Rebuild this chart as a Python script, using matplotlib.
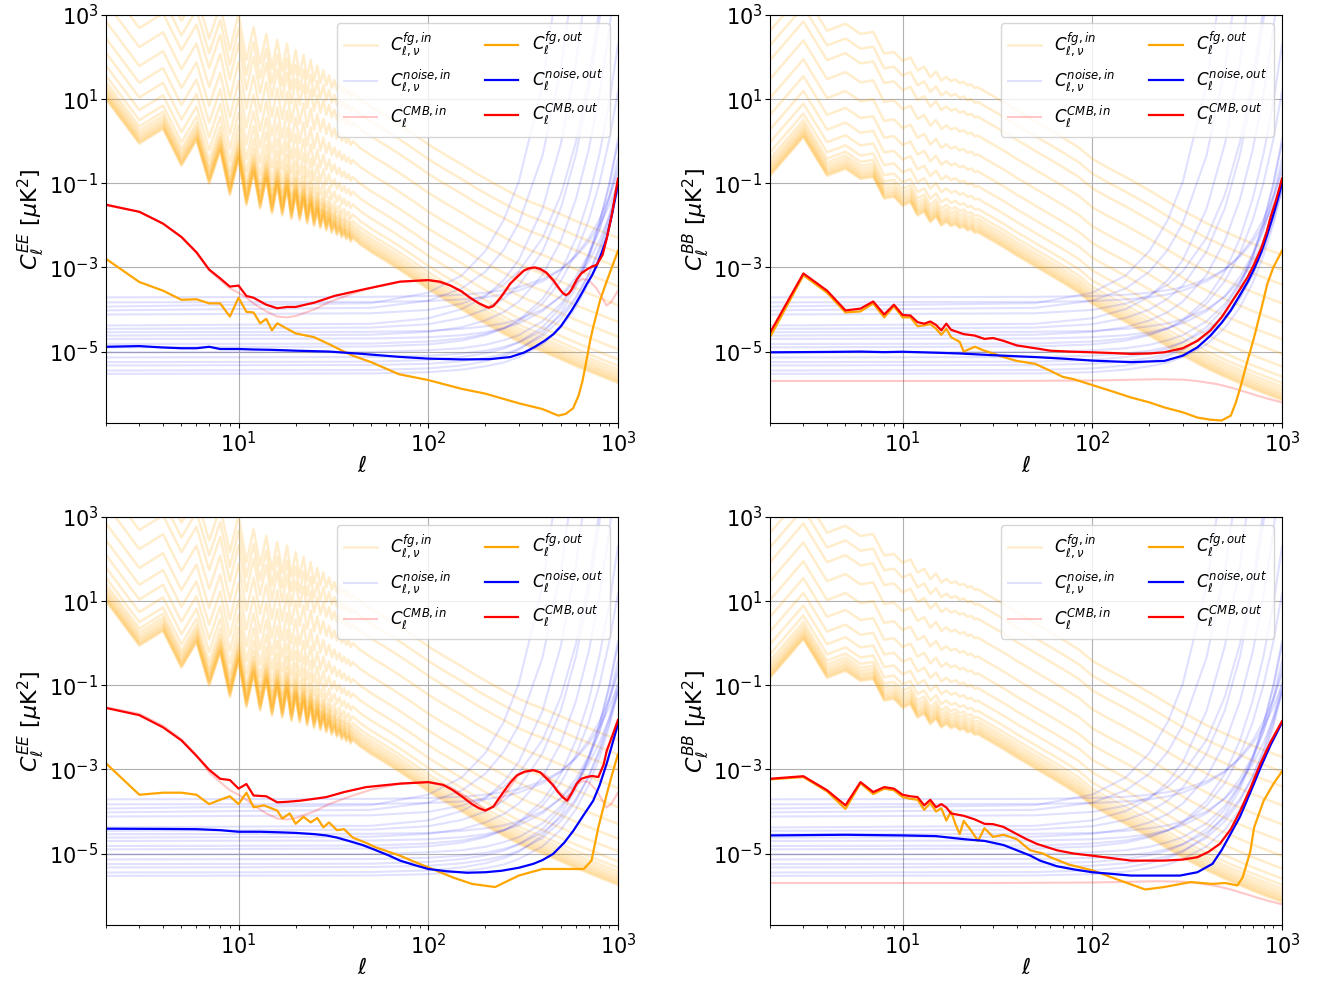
import numpy as np
import matplotlib
matplotlib.use("Agg")
import matplotlib.pyplot as plt
from matplotlib.ticker import NullLocator

# ---------------------------------------------------------------
# input spectra (shared by both rows)
# ---------------------------------------------------------------
# CMB input, EE
ell_cmb_ee = [2, 3, 4, 5, 6, 7, 8, 9, 10, 11, 12, 14, 16, 18, 20, 25, 30, 40, 50, 70, 100,
              130, 165, 200, 230, 260, 300, 360, 420, 480, 530, 570, 610, 650, 700, 770,
              830, 870, 920, 1000]
cmb_in_ee = [3.0e-2, 2.1e-2, 1.1e-2, 5.2e-3, 2.2e-3, 8.5e-4, 5.0e-4, 3.2e-4, 2.5e-4, 1.9e-4,
             1.4e-4, 9.0e-5, 6.8e-5, 6.5e-5, 7.0e-5, 1.0e-4, 1.5e-4, 2.4e-4, 3.3e-4, 4.5e-4,
             5.0e-4, 3.8e-4, 2.0e-4, 1.1e-4, 1.4e-4, 3.0e-4, 7.5e-4, 9.8e-4, 7.2e-4, 3.3e-4,
             2.1e-4, 2.8e-4, 4.5e-4, 5.3e-4, 5.0e-4, 3.2e-4, 1.8e-4, 1.25e-4, 1.5e-4, 2.8e-4]

# CMB input, BB
ell_cmb_bb = [2, 30, 100, 220, 300, 355, 450, 537, 640, 738, 850, 1000]
cmb_in_bb = [2.0e-6, 2.0e-6, 2.05e-6, 2.2e-6, 2.15e-6, 2.0e-6, 1.7e-6, 1.4e-6, 1.1e-6,
             9.0e-7, 7.5e-7, 6.2e-7]

# foreground input: lowest channel, plus channel offsets (log10)
ell_fg_ee = [2, 3, 4, 5, 6, 7, 8, 9, 10, 11, 12, 13, 14, 15, 16, 17, 18, 19, 20, 21, 22,
             23, 24, 25, 26, 27, 28, 29, 30, 31, 32, 33, 34, 35, 36, 37, 38, 39, 40, 42,
             44, 47, 50, 60, 70, 85, 100, 120, 150, 180, 220, 260, 300, 350, 400, 500,
             600, 700, 850, 1000]
fg_base_ee = [10, 0.87, 1.95, 0.26, 1.05, 0.098, 0.6, 0.052, 0.38, 0.030, 0.18, 0.025,
              0.126, 0.019, 0.09, 0.017, 0.074, 0.014, 0.052, 0.013, 0.040, 0.011, 0.030,
              0.0095, 0.022, 0.0085, 0.017, 0.0075, 0.013, 0.0066, 0.010, 0.0058, 0.0082,
              0.0051, 0.0068, 0.0046, 0.0058, 0.0041, 0.0050, 0.0041, 0.0034, 0.0028,
              0.0023, 0.0014, 9e-4, 5e-4, 3e-4, 1.8e-4, 1.0e-4, 6e-5, 3.6e-5, 2.4e-5,
              1.7e-5, 1.25e-5, 1.0e-5, 6.5e-6, 4.5e-6, 3.4e-6, 2.4e-6, 1.8e-6]

ell_fg_bb = [2, 3, 4, 5, 6, 7, 8, 9, 10, 11, 12, 13, 14, 15, 16, 17, 18, 19, 20, 21, 22,
             23, 24, 25, 27, 30, 35, 40, 45, 50, 60, 70, 85, 100, 120, 150, 200, 250, 300,
             400, 500, 700, 1000]
fg_base_bb = [0.15, 1.25, 0.15, 0.22, 0.126, 0.14, 0.043, 0.047, 0.029, 0.035, 0.017, 0.021,
              0.0118, 0.016, 0.0098, 0.012, 0.0095, 0.0105, 0.0085, 0.0092, 0.0075, 0.008,
              0.0066, 0.0068, 0.0055, 0.0042, 0.0028, 0.0019, 0.0014, 0.00105, 6.5e-4,
              4.3e-4, 2.5e-4, 1.35e-4, 8.5e-5, 5e-5, 2.4e-5, 1.3e-5, 8e-6, 4e-6, 2.5e-6,
              1.3e-6, 7e-7]

fg_chan_log = [0, 0.03, 0.06, 0.1, 0.14, 0.19, 0.25, 0.32, 0.41, 0.56, 0.8, 1.1, 1.45,
               1.85, 2.3, 2.75, 3.1, 3.45]

# noise input per channel (log10 values)
ell_noise = [2, 50, 100, 150, 200, 250, 300, 400, 500, 600, 700, 800, 900, 1000]
noise_in_log = [
    [-3.71, -3.70, -3.68, -3.65, -3.60, -3.54, -3.47, -3.28, -3.04, -2.74, -2.39, -1.98, -1.52, -1.01],
    [-3.83, -3.82, -3.80, -3.76, -3.71, -3.64, -3.55, -3.33, -3.06, -2.71, -2.31, -1.85, -1.32, -0.73],
    [-3.93, -3.85, -3.60, -3.19, -2.61, -1.87, -0.96, 1.35, 4.32, 7.95, 12.24, 17.19, 22.8, 29.07],
    [-4.02, -3.96, -3.79, -3.50, -3.10, -2.58, -1.95, -0.34, 1.73, 4.26, 7.25, 10.7, 14.61, 18.98],
    [-4.12, -4.09, -4.01, -3.86, -3.66, -3.41, -3.09, -2.30, -1.27, -0.02, 1.47, 3.18, 5.11, 7.28],
    [-4.38, -4.34, -4.21, -3.99, -3.69, -3.30, -2.82, -1.61, -0.06, 1.85, 4.10, 6.69, 9.63, 12.92],
    [-4.46, -4.43, -4.35, -4.20, -4.00, -3.74, -3.43, -2.62, -1.59, -0.32, 1.18, 2.90, 4.86, 7.04],
    [-4.54, -4.53, -4.51, -4.46, -4.40, -4.33, -4.23, -4.00, -3.69, -3.32, -2.87, -2.36, -1.79, -1.14],
    [-4.62, -4.60, -4.53, -4.42, -4.26, -4.06, -3.81, -3.18, -2.37, -1.38, -0.21, 1.14, 2.67, 4.38],
    [-4.70, -4.69, -4.66, -4.61, -4.54, -4.44, -4.33, -4.04, -3.68, -3.22, -2.69, -2.08, -1.38, -0.60],
    [-4.82, -4.81, -4.76, -4.69, -4.58, -4.45, -4.28, -3.86, -3.32, -2.66, -1.88, -0.98, 0.04, 1.18],
    [-4.90, -4.88, -4.83, -4.74, -4.61, -4.45, -4.25, -3.75, -3.10, -2.31, -1.37, -0.29, 0.93, 2.30],
    [-5.02, -5.01, -4.97, -4.92, -4.84, -4.73, -4.61, -4.28, -3.87, -3.36, -2.77, -2.08, -1.29, -0.42],
    [-5.14, -5.13, -5.10, -5.05, -4.98, -4.89, -4.78, -4.50, -4.14, -3.70, -3.18, -2.58, -1.90, -1.14],
    [-5.25, -5.24, -5.20, -5.13, -5.04, -4.93, -4.78, -4.42, -3.95, -3.38, -2.70, -1.92, -1.04, -0.05],
    [-5.33, -5.32, -5.29, -5.23, -5.15, -5.06, -4.93, -4.63, -4.23, -3.75, -3.17, -2.51, -1.77, -0.93],
    [-5.45, -5.44, -5.40, -5.33, -5.23, -5.11, -4.96, -4.57, -4.08, -3.47, -2.76, -1.93, -1.00, 0.05],
    [-5.53, -5.52, -5.49, -5.43, -5.35, -5.26, -5.13, -4.83, -4.43, -3.95, -3.37, -2.71, -1.97, -1.13],
]

# ---------------------------------------------------------------
# output spectra, one set per panel
# ---------------------------------------------------------------
# top left (EE)
ee_top_cmb_ell = [2, 3, 4, 5, 6, 7, 8, 9, 10, 11, 12, 14, 16, 18, 20, 25, 32, 44, 71, 100,
                  115, 131, 150, 166, 185, 208, 220, 240, 255, 270, 290, 320, 340, 365, 390,
                  420, 457, 480, 500, 515, 532, 550, 570, 590, 606, 640, 684, 730, 772, 830,
                  872, 930, 1000]
ee_top_cmb_out = [3.1e-2, 2.1e-2, 1.1e-2, 5.3e-3, 2.3e-3, 8.9e-4, 5.5e-4, 3.5e-4, 3.7e-4,
                  2.1e-4, 1.9e-4, 1.3e-4, 1.07e-4, 1.15e-4, 1.15e-4, 1.45e-4, 2.1e-4, 2.9e-4,
                  4.6e-4, 5.0e-4, 4.6e-4, 3.7e-4, 2.7e-4, 1.9e-4, 1.4e-4, 1.1e-4, 1.2e-4,
                  1.9e-4, 2.8e-4, 4.1e-4, 5.6e-4, 8.5e-4, 9.6e-4, 1.0e-3, 9.2e-4, 7.5e-4,
                  4.9e-4, 3.6e-4, 2.8e-4, 2.4e-4, 2.2e-4, 2.4e-4, 3.0e-4, 4.1e-4, 5.2e-4,
                  7.2e-4, 8.9e-4, 1.05e-3, 1.15e-3, 2.0e-3, 4.8e-3, 1.9e-2, 1.3e-1]
ee_top_noise_ell = [2, 3, 4, 5, 6, 7, 8, 10, 12, 15, 20, 30, 45, 70, 100, 150, 210, 270, 320,
                    365, 410, 457, 500, 532, 570, 606, 650, 684, 730, 772, 820, 872, 930, 1000]
ee_top_noise_out = [1.3e-5, 1.35e-5, 1.25e-5, 1.2e-5, 1.2e-5, 1.3e-5, 1.15e-5, 1.15e-5,
                    1.12e-5, 1.1e-5, 1.05e-5, 1.0e-5, 8.8e-6, 7.5e-6, 6.8e-6, 6.5e-6, 6.6e-6,
                    7.4e-6, 9.5e-6, 1.3e-5, 1.8e-5, 2.6e-5, 4.0e-5, 6.0e-5, 9.5e-5, 1.5e-4,
                    2.6e-4, 4.0e-4, 6.5e-4, 1.1e-3, 2.2e-3, 5.0e-3, 1.8e-2, 1.0e-1]
ee_top_fg_ell = [2, 3, 4, 5, 6, 7, 8, 9, 10, 11, 12, 13, 14, 15, 16, 18, 20, 25, 30, 35, 40,
                 50, 70, 100, 150, 200, 300, 400, 485, 530, 580, 620, 650, 670, 713, 740, 803,
                 850, 920, 1000]
ee_top_fg_out = [1.6e-3, 4.5e-4, 2.8e-4, 1.7e-4, 1.75e-4, 1.4e-4, 1.4e-4, 6.8e-5, 1.9e-4,
                 8.8e-5, 8.5e-5, 4.7e-5, 6e-5, 3.2e-5, 4.7e-5, 3.5e-5, 2.7e-5, 2.2e-5, 1.5e-5,
                 1.06e-5, 8e-6, 5.6e-6, 2.9e-6, 2.1e-6, 1.3e-6, 1.0e-6, 5.9e-7, 4.3e-7, 3.0e-7,
                 3.3e-7, 4.5e-7, 9e-7, 2e-6, 4e-6, 1.8e-5, 3.8e-5, 1.6e-4, 3.4e-4, 9e-4, 2.5e-3]

# top right (BB)
bb_top_cmb_ell = [2, 3, 4, 5, 6, 7, 8, 9, 10, 11, 12, 13, 14, 15, 16, 17, 18, 21, 24, 27, 30,
                  34, 40, 50, 60, 75, 100, 130, 160, 200, 239, 300, 358, 420, 480, 537, 600,
                  660, 713, 780, 830, 871, 930, 1000]
bb_top_cmb_out = [2.8e-5, 7.2e-4, 2.8e-4, 9.5e-5, 1.05e-4, 1.55e-4, 7.6e-5, 1.3e-4, 7.4e-5,
                  7.2e-5, 5e-5, 4.6e-5, 5.2e-5, 4.3e-5, 3.2e-5, 4.6e-5, 3.3e-5, 2.6e-5, 2.4e-5,
                  2e-5, 2.1e-5, 1.8e-5, 1.4e-5, 1.2e-5, 1.05e-5, 1e-5, 9.6e-6, 9.2e-6, 8.8e-6,
                  9e-6, 9.6e-6, 1.2e-5, 1.8e-5, 3.2e-5, 6.5e-5, 1.4e-4, 3e-4, 6e-4, 1.2e-3,
                  3e-3, 7e-3, 1.6e-2, 4e-2, 1.3e-1]
bb_top_noise_ell = [2, 4, 6, 8, 10, 15, 20, 30, 50, 70, 100, 160, 240, 300, 358, 420, 480, 537,
                    600, 660, 713, 780, 830, 871, 930, 1000]
bb_top_noise_out = [9.6e-6, 9.8e-6, 1.0e-5, 9.7e-6, 9.9e-6, 9.4e-6, 9e-6, 8.2e-6, 7.4e-6,
                    6.8e-6, 6.1e-6, 5.6e-6, 6.0e-6, 8e-6, 1.26e-5, 2.4e-5, 4.8e-5, 9.5e-5,
                    2.2e-4, 4.6e-4, 9.3e-4, 2.4e-3, 5.5e-3, 1.1e-2, 3e-2, 1e-1]
bb_top_fg_ell = [2, 3, 4, 5, 6, 7, 8, 9, 10, 11, 12, 13, 14, 15, 16, 17, 18, 20, 21, 24, 27,
                 30, 34, 40, 44, 50, 60, 70, 80, 100, 130, 160, 200, 240, 300, 358, 420, 480,
                 537, 570, 603, 650, 713, 780, 837, 900, 1000]
bb_top_fg_out = [2.2e-5, 6.5e-4, 2.5e-4, 8.5e-5, 9e-5, 1.4e-4, 6.5e-5, 1.2e-4, 6.5e-5,
                 6.5e-5, 4e-5, 4.2e-5, 4.5e-5, 3.5e-5, 2.5e-5, 3.5e-5, 2.2e-5, 1.7e-5, 1.0e-5,
                 1.3e-5, 1.05e-5, 9e-6, 7.4e-6, 6e-6, 5.6e-6, 5.1e-6, 3.5e-6, 2.5e-6, 2.2e-6,
                 1.6e-6, 1.1e-6, 8.1e-7, 6.2e-7, 4.7e-7, 3.6e-7, 2.7e-7, 2.4e-7, 2.3e-7, 3e-7,
                 6e-7, 1.4e-6, 5e-6, 2.2e-5, 1.1e-4, 4.1e-4, 1.0e-3, 2.5e-3]

# bottom left (EE)
ee_bot_cmb_ell = [2, 3, 4, 5, 6, 7, 8, 9, 10, 11, 12, 14, 16, 18, 21, 25, 29, 36, 47, 71, 100,
                  120, 135, 150, 170, 185, 200, 220, 249, 270, 293, 320, 358, 390, 428, 455,
                  480, 510, 540, 570, 606, 640, 685, 730, 788, 840, 873, 930, 1000]
ee_bot_cmb_out = [2.9e-2, 1.95e-2, 1.0e-2, 4.9e-3, 2.1e-3, 9.8e-4, 6e-4, 5.6e-4, 3.5e-4,
                  4.5e-4, 2.4e-4, 2.3e-4, 1.65e-4, 1.7e-4, 1.8e-4, 2.0e-4, 2.2e-4, 2.9e-4,
                  3.8e-4, 4.6e-4, 5.0e-4, 4.3e-4, 3.2e-4, 2.3e-4, 1.5e-4, 1.2e-4, 1.05e-4,
                  1.3e-4, 2.9e-4, 4.8e-4, 7.2e-4, 8.8e-4, 9.6e-4, 8.5e-4, 5.6e-4, 4.2e-4,
                  3.0e-4, 2.2e-4, 1.8e-4, 2.7e-4, 4.6e-4, 6.0e-4, 6.6e-4, 7.0e-4, 6.6e-4,
                  1.3e-3, 2.8e-3, 6e-3, 1.5e-2]
ee_bot_noise_ell = [2, 4, 6, 8, 10, 13, 16.5, 20, 25, 29, 33, 38, 45, 53, 62, 71, 85, 100,
                    125, 160, 200, 243, 300, 358, 400, 455, 520, 582, 650, 740, 800, 873,
                    930, 1000]
ee_bot_noise_out = [3.9e-5, 3.85e-5, 3.8e-5, 3.6e-5, 3.3e-5, 3.3e-5, 3.2e-5, 3.1e-5, 2.9e-5,
                    2.7e-5, 2.4e-5, 2.0e-5, 1.6e-5, 1.2e-5, 9e-6, 6.8e-6, 5.3e-6, 4.3e-6,
                    3.8e-6, 3.5e-6, 3.6e-6, 3.9e-6, 4.6e-6, 5.7e-6, 7e-6, 9.8e-6, 1.8e-5,
                    3.5e-5, 7.5e-5, 1.8e-4, 4.2e-4, 1.4e-3, 3.8e-3, 1.2e-2]
ee_bot_fg_ell = [2, 3, 4, 5, 6, 7, 8, 9, 10, 11, 12, 13.6, 16, 17, 18.6, 20, 22, 24, 26, 28,
                 30, 33, 36, 40, 47, 53, 62, 71, 85, 100, 135, 170, 225, 300, 400, 540, 660,
                 725, 788, 873, 930, 1000]
ee_bot_fg_out = [1.4e-3, 2.5e-4, 2.8e-4, 2.8e-4, 2.5e-4, 1.5e-4, 1.9e-4, 2.3e-4, 1.5e-4,
                 2.8e-4, 1.26e-4, 1.4e-4, 1.05e-4, 6.8e-5, 9e-5, 5.1e-5, 7.5e-5, 5.5e-5, 7e-5,
                 4.2e-5, 5.5e-5, 3.6e-5, 3.8e-5, 2.4e-5, 1.8e-5, 1.4e-5, 1.1e-5, 8.9e-6,
                 6.3e-6, 4.7e-6, 2.7e-6, 1.9e-6, 1.6e-6, 3.0e-6, 4.3e-6, 4.3e-6, 4.3e-6,
                 6.8e-6, 4.2e-5, 2.6e-4, 7.5e-4, 2.3e-3]

# bottom right (BB)
bb_bot_cmb_ell = [2, 3, 4, 5, 6, 7, 8, 9, 10, 11, 12, 13, 14, 15, 16, 17, 18, 21, 24, 27, 30,
                  34, 40, 45, 51, 65, 80, 100, 160, 239, 300, 358, 410, 470, 537, 603, 680,
                  770, 870, 1000]
bb_bot_cmb_out = [6e-4, 6.9e-4, 3.2e-4, 1.4e-4, 5e-4, 2.9e-4, 3.8e-4, 3.5e-4, 2.5e-4, 2.3e-4,
                  2.2e-4, 1.4e-4, 1.9e-4, 1.26e-4, 1.5e-4, 1.25e-4, 9e-5, 7.9e-5, 6.5e-5,
                  5.1e-5, 5e-5, 4.3e-5, 2.9e-5, 2.2e-5, 1.7e-5, 1.2e-5, 1.0e-5, 8.9e-6, 6.8e-6,
                  6.8e-6, 7.2e-6, 8.2e-6, 1.1e-5, 1.7e-5, 3.8e-5, 1.05e-4, 3.5e-4, 1.4e-3,
                  4.5e-3, 1.4e-2]
bb_bot_noise_ell = [2, 5, 10, 15, 21, 27, 34, 40, 47, 53, 65, 80, 100, 160, 220, 290, 358, 430,
                    480, 537, 600, 652, 710, 770, 870, 1000]
bb_bot_noise_out = [2.7e-5, 2.8e-5, 2.7e-5, 2.6e-5, 2.2e-5, 2.0e-5, 1.6e-5, 1.2e-5, 9e-6,
                    6.8e-6, 5e-6, 4.2e-6, 3.6e-6, 3.0e-6, 3.0e-6, 3.0e-6, 3.6e-6, 5.7e-6,
                    1.2e-5, 3.0e-5, 7.5e-5, 1.8e-4, 4.5e-4, 1.1e-3, 3.8e-3, 1.3e-2]
bb_bot_fg_ell = [2, 3, 4, 5, 6, 7, 8, 9, 10, 11, 12, 13, 14, 15, 16, 17, 18, 19, 20, 21, 23,
                 25, 27, 30, 34, 40, 47, 55, 60, 75, 100, 140, 190, 239, 330, 430, 500, 582,
                 620, 680, 713, 800, 900, 1000]
bb_bot_fg_out = [5.8e-4, 6.6e-4, 3e-4, 1.15e-4, 4.7e-4, 2.6e-4, 3.5e-4, 3.2e-4, 2.2e-4, 2e-4,
                 1.9e-4, 1.1e-4, 1.6e-4, 1.0e-4, 1.2e-4, 6.1e-5, 1.0e-4, 5e-5, 2.9e-5, 6e-5,
                 3.5e-5, 2e-5, 4e-5, 2.5e-5, 2.8e-5, 2.2e-5, 1.2e-5, 1.0e-5, 8.2e-6, 5.5e-6,
                 4e-6, 2.3e-6, 1.4e-6, 1.6e-6, 2.1e-6, 1.9e-6, 2.0e-6, 1.75e-6, 2.7e-6, 1.1e-5,
                 4.2e-5, 1.8e-4, 4.5e-4, 9e-4]

panels = [
    ("EE", ee_top_fg_ell, ee_top_fg_out, ee_top_noise_ell, ee_top_noise_out, ee_top_cmb_ell, ee_top_cmb_out),
    ("BB", bb_top_fg_ell, bb_top_fg_out, bb_top_noise_ell, bb_top_noise_out, bb_top_cmb_ell, bb_top_cmb_out),
    ("EE", ee_bot_fg_ell, ee_bot_fg_out, ee_bot_noise_ell, ee_bot_noise_out, ee_bot_cmb_ell, ee_bot_cmb_out),
    ("BB", bb_bot_fg_ell, bb_bot_fg_out, bb_bot_noise_ell, bb_bot_noise_out, bb_bot_cmb_ell, bb_bot_cmb_out),
]

# axes boxes in figure fractions
boxes = [
    [0.0796, 0.5692, 0.3847, 0.4155],
    [0.5785, 0.5692, 0.3847, 0.4155],
    [0.0796, 0.0580, 0.3847, 0.4155],
    [0.5785, 0.0580, 0.3847, 0.4155],
]

fig = plt.figure(figsize=(13.31, 9.82), dpi=100)

for box, (spec, fg_l, fg_o, n_l, n_o, c_l, c_o) in zip(boxes, panels):
    ax = fig.add_axes(box)

    if spec == "EE":
        fg_ell, fg_base = ell_fg_ee, fg_base_ee
        cmb_ell, cmb_in = ell_cmb_ee, cmb_in_ee
    else:
        fg_ell, fg_base = ell_fg_bb, fg_base_bb
        cmb_ell, cmb_in = ell_cmb_bb, cmb_in_bb

    # input curves (faint)
    for i, s in enumerate(fg_chan_log):
        ax.plot(fg_ell, np.array(fg_base) * 10**s, color="orange", alpha=0.2, lw=1.8,
                label=r"$C_{\ell,\nu}^{fg,in}$" if i == 0 else None)
    for i, row in enumerate(noise_in_log):
        ax.plot(ell_noise, 10**np.array(row), color="blue", alpha=0.12, lw=1.5,
                label=r"$C_{\ell,\nu}^{noise,in}$" if i == 0 else None)
    ax.plot(cmb_ell, cmb_in, color="red", alpha=0.22, lw=1.5, label=r"$C_{\ell}^{CMB,in}$")

    # output curves
    ax.plot(fg_l, fg_o, color="orange", lw=1.6, label=r"$C_{\ell}^{fg,out}$")
    ax.plot(n_l, n_o, color="blue", lw=1.6, label=r"$C_{\ell}^{noise,out}$")
    ax.plot(c_l, c_o, color="red", lw=1.6, label=r"$C_{\ell}^{CMB,out}$")

    ax.set_xscale("log")
    ax.set_yscale("log")
    ax.set_xlim(2, 1000)
    ax.set_ylim(2e-7, 1e3)
    ax.set_yticks([1e-5, 1e-3, 1e-1, 1e1, 1e3])
    ax.yaxis.set_minor_locator(NullLocator())
    ax.grid(True, which="major", color="#b0b0b0", lw=0.8)
    ax.tick_params(labelsize=15, pad=2)

    ax.set_xlabel(r"$\ell$", fontsize=16, labelpad=0)
    ax.set_ylabel(r"$C_\ell^{%s}$ [$\mu$K$^2$]" % spec, fontsize=16, labelpad=2)
    ax.legend(loc="upper right", ncol=2, fontsize=12)

fig.savefig("out.png", dpi=100)
